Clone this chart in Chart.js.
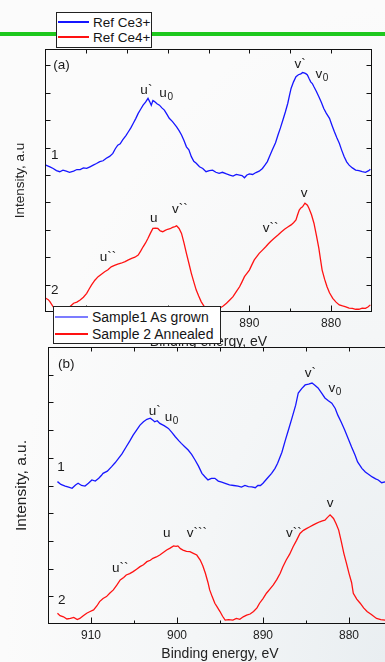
<!DOCTYPE html>
<html>
<head>
<meta charset="utf-8">
<script src="https://cdn.jsdelivr.net/npm/chart.js@4.4.0/dist/chart.umd.min.js"></script>
<style>
  html, body { margin: 0; padding: 0; width: 385px; height: 662px; overflow: hidden; }
  body {
    position: relative;
    font-family: "Liberation Sans", Arial, sans-serif;
    background: radial-gradient(ellipse at 100% 100%, #e9eef1 0%, #f4f6f7 35%, #fbfbfb 70%);
  }
  #greenBar { position: absolute; left: 0; top: 32px; width: 385px; height: 4px; background: #1ec81e; z-index: 0; }
  #wrapA { position: absolute; left: 0; top: 40px; width: 385px; height: 307px; overflow: hidden; z-index: 1; }
  #wrapB { position: absolute; left: 0; top: 340px; width: 400px; height: 324px; z-index: 2; }
  .legend { position: absolute; box-sizing: border-box; background: #fff; border: 1px solid #222; color: #151515; z-index: 3; }
  .legend .row { position: absolute; left: 0; white-space: nowrap; }
  .legend .swatch { position: absolute; left: 1px; }
  .legend .txt { position: absolute; }
  #legendA { left: 56px; top: 12px; width: 96px; height: 36px; font-size: 13.5px; }
  #legendB { left: 53px; top: 306px; width: 168px; height: 38px; font-size: 14px; }
</style>
</head>
<body>
<div id="greenBar"></div>
<div id="wrapA"><canvas id="chartA" width="385" height="312"></canvas></div>
<div id="wrapB"><canvas id="chartB" width="400" height="324"></canvas></div>
<div id="legendA" class="legend"></div>
<div id="legendB" class="legend"></div>

<script>
// Tick labels on the binding energy axis
const energyTicks = [880, 890, 900, 910];

// (a) reference spectra
const ce3Energy = [914.9, 914.4, 914.0, 913.6, 913.2, 912.8, 912.4, 912.0, 911.5, 911.1, 910.7, 910.3, 909.9, 909.5, 909.1, 908.7, 908.3, 907.9, 907.5, 907.1, 906.7, 906.4, 906.1, 905.8, 905.5, 905.1, 904.8, 904.5, 904.2, 903.9, 903.6, 903.3, 903.0, 902.7, 902.4, 902.2, 902.0, 901.8, 901.6, 901.3, 901.0, 900.7, 900.4, 900.1, 899.8, 899.4, 898.9, 898.6, 898.3, 898.0, 897.7, 897.4, 897.1, 896.8, 896.5, 896.1, 895.7, 895.3, 894.9, 894.5, 894.1, 893.7, 893.3, 892.8, 892.4, 892.0, 891.6, 891.2, 890.9, 890.6, 890.3, 890.0, 889.6, 889.2, 888.8, 888.4, 888.1, 887.8, 887.5, 887.2, 886.8, 886.5, 886.2, 885.9, 885.6, 885.3, 885.1, 884.9, 884.6, 884.3, 884.0, 883.7, 883.5, 883.3, 883.1, 882.9, 882.7, 882.5, 882.3, 882.1, 881.8, 881.5, 881.2, 880.9, 880.6, 880.2, 879.9, 879.6, 879.3, 879.0, 878.7, 878.4, 878.1, 877.8, 877.4, 877.0, 876.6, 876.2, 875.8, 875.4, 875.2];
const ce3Counts = [5.36, 5.30, 5.24, 5.16, 5.12, 5.18, 5.14, 5.10, 5.14, 5.20, 5.20, 5.26, 5.24, 5.30, 5.36, 5.42, 5.49, 5.52, 5.61, 5.68, 5.79, 5.96, 6.09, 6.14, 6.28, 6.44, 6.58, 6.72, 6.89, 7.06, 7.25, 7.40, 7.55, 7.66, 7.80, 7.68, 7.55, 7.72, 7.68, 7.60, 7.55, 7.45, 7.37, 7.22, 7.07, 6.95, 6.76, 6.62, 6.46, 6.26, 6.03, 5.92, 5.67, 5.50, 5.43, 5.30, 5.24, 5.12, 5.16, 5.18, 5.10, 5.06, 5.10, 5.04, 5.00, 4.96, 5.02, 5.00, 4.98, 4.90, 5.00, 5.04, 5.02, 5.09, 5.14, 5.24, 5.36, 5.49, 5.70, 5.91, 6.18, 6.46, 6.72, 7.01, 7.30, 7.62, 7.90, 8.16, 8.40, 8.59, 8.66, 8.69, 8.74, 8.73, 8.70, 8.65, 8.52, 8.40, 8.34, 8.22, 8.05, 7.86, 7.66, 7.43, 7.26, 7.07, 6.82, 6.58, 6.36, 6.16, 5.90, 5.67, 5.48, 5.36, 5.26, 5.18, 5.16, 5.12, 5.10, 5.16, 5.21];

const ce4Energy = [914.9, 914.6, 914.4, 914.0, 913.5, 913.0, 912.5, 912.0, 911.5, 911.1, 910.7, 910.3, 909.9, 909.6, 909.3, 908.9, 908.5, 908.1, 907.7, 907.3, 906.9, 906.5, 906.1, 905.7, 905.2, 904.8, 904.4, 904.0, 903.6, 903.3, 903.0, 902.7, 902.4, 902.1, 901.8, 901.5, 901.2, 900.9, 900.6, 900.3, 900.0, 899.7, 899.4, 899.1, 898.9, 898.6, 898.3, 898.0, 897.7, 897.4, 897.1, 896.8, 896.5, 896.2, 895.9, 895.5, 895.1, 894.7, 894.3, 893.7, 893.2, 892.8, 892.4, 892.0, 891.6, 891.2, 890.9, 890.6, 890.3, 890.0, 889.7, 889.4, 889.1, 888.8, 888.4, 888.0, 887.7, 887.4, 887.0, 886.5, 886.1, 885.7, 885.3, 884.9, 884.6, 884.3, 884.1, 883.9, 883.7, 883.5, 883.2, 882.9, 882.7, 882.4, 882.1, 881.8, 881.5, 881.3, 881.1, 880.8, 880.5, 880.2, 879.8, 879.4, 879.0, 878.6, 878.2, 877.8, 877.4, 877.0, 876.6, 876.2, 875.8, 875.5, 875.2];
const ce4Counts = [0.50, 0.45, 0.38, 0.19, 0.12, 0.10, 0.14, 0.18, 0.32, 0.36, 0.44, 0.54, 0.68, 0.84, 0.99, 1.16, 1.29, 1.38, 1.47, 1.54, 1.65, 1.70, 1.75, 1.78, 1.84, 1.90, 1.96, 2.00, 2.08, 2.22, 2.38, 2.52, 2.69, 2.88, 3.05, 3.06, 3.05, 2.96, 2.93, 2.98, 3.02, 3.04, 3.09, 3.12, 3.15, 3.05, 2.87, 2.52, 2.14, 1.78, 1.41, 1.10, 0.80, 0.58, 0.38, 0.19, 0.10, 0.05, 0.07, 0.13, 0.22, 0.32, 0.44, 0.56, 0.74, 0.92, 1.10, 1.29, 1.41, 1.53, 1.72, 1.90, 2.02, 2.14, 2.26, 2.38, 2.48, 2.57, 2.68, 2.81, 2.92, 3.02, 3.10, 3.18, 3.26, 3.36, 3.55, 3.72, 3.80, 3.84, 3.97, 3.90, 3.78, 3.55, 3.24, 2.80, 2.32, 1.92, 1.53, 1.20, 0.92, 0.70, 0.50, 0.36, 0.26, 0.22, 0.19, 0.14, 0.13, 0.10, 0.10, 0.14, 0.13, 0.18, 0.26];

// (b) sample spectra
const grownEnergy = [913.9, 913.5, 913.0, 912.6, 912.2, 911.8, 911.5, 911.1, 910.7, 910.3, 909.9, 909.5, 909.1, 908.8, 908.6, 908.1, 907.6, 907.2, 906.8, 906.4, 905.9, 905.5, 905.1, 904.7, 904.3, 903.9, 903.5, 903.1, 902.8, 902.6, 902.3, 902.0, 901.5, 901.0, 900.6, 900.2, 899.8, 899.5, 899.1, 898.7, 898.3, 897.9, 897.5, 897.1, 896.7, 896.4, 896.0, 895.6, 895.2, 894.8, 894.4, 893.9, 893.4, 892.9, 892.5, 892.1, 891.7, 891.3, 890.9, 890.6, 890.3, 890.0, 889.5, 889.0, 888.6, 888.3, 887.8, 887.4, 887.0, 886.6, 886.2, 885.9, 885.5, 885.1, 884.7, 884.3, 884.0, 883.6, 883.2, 882.8, 882.4, 882.0, 881.6, 881.3, 880.9, 880.5, 880.1, 879.7, 879.3, 879.0, 878.5, 878.1, 877.7, 877.3, 876.9, 876.6, 876.2, 875.8];
const grownCounts = [5.14, 5.04, 4.98, 4.94, 4.90, 5.02, 5.08, 5.00, 4.98, 5.08, 5.20, 5.16, 5.26, 5.36, 5.44, 5.52, 5.68, 5.82, 5.98, 6.14, 6.40, 6.60, 6.82, 7.00, 7.18, 7.30, 7.39, 7.43, 7.36, 7.30, 7.34, 7.24, 7.16, 7.06, 6.92, 6.76, 6.62, 6.52, 6.40, 6.28, 6.12, 5.92, 5.70, 5.44, 5.30, 5.20, 5.26, 5.26, 5.16, 5.12, 5.08, 5.02, 5.00, 4.98, 4.94, 5.00, 4.96, 4.95, 4.92, 5.00, 5.00, 5.08, 5.26, 5.44, 5.62, 5.80, 6.20, 6.64, 7.05, 7.47, 7.90, 8.34, 8.50, 8.63, 8.66, 8.70, 8.63, 8.52, 8.34, 8.16, 8.06, 7.97, 7.78, 7.54, 7.28, 7.00, 6.70, 6.39, 6.10, 5.85, 5.62, 5.49, 5.40, 5.31, 5.24, 5.20, 5.10, 5.13];

const annealEnergy = [913.9, 913.6, 913.2, 912.8, 912.4, 912.0, 911.6, 911.3, 910.9, 910.5, 910.1, 909.7, 909.3, 909.0, 908.6, 908.2, 907.8, 907.4, 907.0, 906.6, 906.2, 905.9, 905.5, 905.1, 904.7, 904.3, 903.9, 903.5, 903.1, 902.8, 902.4, 902.0, 901.6, 901.2, 900.8, 900.4, 900.1, 899.9, 899.6, 899.3, 898.9, 898.5, 898.1, 897.7, 897.3, 897.0, 896.7, 896.4, 896.2, 895.9, 895.6, 895.3, 895.0, 894.7, 894.4, 894.0, 893.5, 893.1, 892.7, 892.3, 891.9, 891.5, 891.1, 890.7, 890.4, 890.0, 889.6, 889.2, 888.8, 888.4, 888.0, 887.7, 887.3, 886.9, 886.5, 886.1, 885.7, 885.3, 884.9, 884.6, 884.2, 883.8, 883.4, 883.1, 882.8, 882.5, 882.2, 881.8, 881.5, 881.2, 880.9, 880.6, 880.3, 880.0, 879.7, 879.5, 879.1, 878.7, 878.3, 877.9, 877.4, 876.8, 876.3, 875.8];
const annealCounts = [0.39, 0.30, 0.26, 0.18, 0.20, 0.24, 0.16, 0.20, 0.30, 0.39, 0.45, 0.51, 0.66, 0.81, 0.92, 0.99, 1.12, 1.23, 1.40, 1.59, 1.68, 1.77, 1.82, 1.89, 1.98, 2.07, 2.14, 2.25, 2.30, 2.37, 2.42, 2.49, 2.58, 2.67, 2.74, 2.82, 2.80, 2.82, 2.72, 2.67, 2.62, 2.61, 2.55, 2.49, 2.31, 2.10, 1.83, 1.50, 1.23, 0.98, 0.75, 0.60, 0.45, 0.28, 0.14, 0.16, 0.14, 0.20, 0.17, 0.26, 0.32, 0.36, 0.45, 0.58, 0.75, 0.92, 1.11, 1.26, 1.41, 1.60, 1.83, 2.06, 2.31, 2.52, 2.79, 3.02, 3.27, 3.38, 3.45, 3.50, 3.57, 3.63, 3.69, 3.72, 3.75, 3.85, 3.94, 3.81, 3.62, 3.39, 2.98, 2.55, 2.20, 1.83, 1.50, 1.11, 0.90, 0.75, 0.58, 0.45, 0.34, 0.20, 0.16, 0.14];

// Peak labels, anchored at (energy, intensity)
const notesA = [
  { text: '(a)', e: 914.0, i: 9.0, left: true },
  { text: 'u`', e: 902.6, i: 8.1 },
  { text: 'u', sub: '0', e: 900.55, i: 7.99 },
  { text: 'v`', e: 883.8, i: 9.05 },
  { text: 'v', sub: '0', e: 881.5, i: 8.69 },
  { text: '1', e: 913.8, i: 5.73 },
  { text: 'v', e: 883.3, i: 4.34 },
  { text: 'u', e: 901.7, i: 3.43 },
  { text: 'v``', e: 898.5, i: 3.76 },
  { text: 'u``', e: 907.3, i: 2.0 },
  { text: 'v``', e: 887.4, i: 3.07 },
  { text: '2', e: 913.8, i: 0.8 }
];
const notesB = [
  { text: '(b)', e: 913.84, i: 9.39, left: true },
  { text: 'v`', e: 884.5, i: 9.06 },
  { text: 'v', sub: '0', e: 882.0, i: 8.52 },
  { text: 'u`', e: 902.6, i: 7.69 },
  { text: 'u', sub: '0', e: 901.0, i: 7.47 },
  { text: '1', e: 913.5, i: 5.67 },
  { text: 'v', e: 882.2, i: 4.37 },
  { text: 'u', e: 901.2, i: 3.29 },
  { text: 'v```', e: 897.7, i: 3.29 },
  { text: 'u``', e: 906.6, i: 2.02 },
  { text: 'v``', e: 886.4, i: 3.29 },
  { text: '2', e: 913.4, i: 0.87 }
];

const fontFamily = '"Liberation Sans", Arial, sans-serif';
const blue = '#1616ff';
const red = '#ff1212';

// Box round the plot area, with small ticks pointing inwards
const frameTicks = {
  id: 'frameTicks',
  afterDatasetsDraw(chart) {
    const { ctx, chartArea: a, scales: { x, y } } = chart;
    const L = Math.round(a.left) + 0.5, R = Math.round(a.right) - 0.5;
    const T = Math.round(a.top) + 0.5, B = Math.round(a.bottom) - 0.5;
    ctx.save();
    ctx.strokeStyle = '#111';
    ctx.lineWidth = 1;
    ctx.strokeRect(L, T, R - L, B - T);
    ctx.beginPath();
    for (let v = x.min + 5; v < x.max; v += 5) {
      const px = Math.round(x.getPixelForValue(v)) + 0.5;
      const len = v % 10 === 0 ? 6 : 3;
      ctx.moveTo(px, B); ctx.lineTo(px, B - len);
      ctx.moveTo(px, T); ctx.lineTo(px, T + 4);
    }
    for (let v = 1; v < y.max; v++) {
      const py = Math.round(y.getPixelForValue(v)) + 0.5;
      ctx.moveTo(L, py); ctx.lineTo(L + 5, py);
      ctx.moveTo(R, py); ctx.lineTo(R - 5, py);
    }
    ctx.stroke();
    ctx.restore();
  }
};

// Peak names written next to the curves
const peakNotes = {
  id: 'peakNotes',
  afterDatasetsDraw(chart, args, opts) {
    const { ctx, scales: { x, y } } = chart;
    ctx.save();
    ctx.fillStyle = '#1a1a1a';
    ctx.textBaseline = 'middle';
    opts.notes.forEach(n => {
      const px = x.getPixelForValue(n.e);
      const py = y.getPixelForValue(n.i);
      ctx.font = '13.5px ' + fontFamily;
      ctx.textAlign = n.left ? 'left' : 'center';
      ctx.fillText(n.text, px, py);
      if (n.sub) {
        const w = ctx.measureText(n.text).width;
        ctx.font = '10px ' + fontFamily;
        ctx.textAlign = 'left';
        ctx.fillText(n.sub, px + w / 2 + 0.5, py + 4);
      }
    });
    ctx.restore();
  }
};

function spectrumChart(canvas, series, opt) {
  return new Chart(canvas, {
    type: 'line',
    data: {
      datasets: series.map(s => ({
        label: s.label,
        data: s.energy.map((e, k) => ({ x: e, y: s.counts[k] })),
        borderColor: s.color,
        backgroundColor: s.color,
        borderWidth: 1.3,
        pointRadius: 0,
        tension: 0,
        fill: false
      }))
    },
    options: {
      responsive: false,
      animation: false,
      events: [],
      layout: { padding: { top: opt.padTop, right: opt.padRight, left: 0, bottom: 0 } },
      plugins: {
        legend: { display: false },
        tooltip: { enabled: false },
        peakNotes: { notes: opt.notes }
      },
      scales: {
        x: {
          type: 'linear',
          reverse: true,
          min: 875,
          max: 915,
          grid: { display: false, drawTicks: false },
          border: { display: false },
          afterBuildTicks: s => { s.ticks = energyTicks.map(v => ({ value: v })); },
          afterFit: s => { s.height = 40; },
          ticks: { color: '#222', font: { size: 12, family: fontFamily }, padding: 4, maxRotation: 0, autoSkip: false },
          title: { display: true, text: 'Binding energy, eV', color: '#222', font: { size: 14, family: fontFamily }, padding: { top: 0, bottom: 1 } }
        },
        y: {
          min: 0,
          max: opt.yMax,
          grid: { display: false, drawTicks: false },
          border: { display: false },
          ticks: { display: false },
          afterFit: s => { s.width = opt.yWidth; },
          title: { display: true, text: opt.yTitle, color: '#222', font: { size: opt.yTitleSize, family: fontFamily }, padding: { top: 12, bottom: 0 } }
        }
      }
    },
    plugins: [frameTicks, peakNotes]
  });
}

// Legend boxes made from the datasets of a chart
function htmlLegend(el, chart, rowH, sw) {
  el.innerHTML = '';
  chart.data.datasets.forEach((ds, k) => {
    const row = document.createElement('div');
    row.className = 'row';
    row.style.top = (1.5 + k * rowH) + 'px';
    row.style.height = rowH + 'px';
    row.style.lineHeight = rowH + 'px';
    row.style.width = '100%';
    const line = document.createElement('span');
    line.className = 'swatch';
    const look = sw.looks[k];
    line.style.width = sw.len + 'px';
    line.style.top = (rowH / 2 - look.w / 2) + 'px';
    line.style.height = look.w + 'px';
    line.style.background = look.color || ds.borderColor;
    const txt = document.createElement('span');
    txt.className = 'txt';
    txt.style.left = sw.textLeft + 'px';
    txt.textContent = ds.label;
    row.appendChild(line);
    row.appendChild(txt);
    el.appendChild(row);
  });
}

const chartA = spectrumChart(document.getElementById('chartA'), [
  { label: 'Ref Ce3+', energy: ce3Energy, counts: ce3Counts, color: blue },
  { label: 'Ref Ce4+', energy: ce4Energy, counts: ce4Counts, color: red }
], { padTop: 9, padRight: 13, yWidth: 45, yMax: 9.6, yTitle: 'Intensity, a.u', yTitleSize: 13.5, notes: notesA });

const chartB = spectrumChart(document.getElementById('chartB'), [
  { label: 'Sample1 As grown', energy: grownEnergy, counts: grownCounts, color: blue },
  { label: 'Sample 2 Annealed', energy: annealEnergy, counts: annealCounts, color: red }
], { padTop: 7, padRight: 8, yWidth: 48, yMax: 10, yTitle: 'Intensity, a.u.', yTitleSize: 15.5, notes: notesB });

htmlLegend(document.getElementById('legendA'), chartA, 15, {
  len: 31, textLeft: 36, looks: [{ w: 1.5 }, { w: 1.5 }]
});
htmlLegend(document.getElementById('legendB'), chartB, 17, {
  len: 33, textLeft: 38, looks: [{ w: 2.5, color: '#7c7cff' }, { w: 1.5 }]
});
</script>
</body>
</html>
